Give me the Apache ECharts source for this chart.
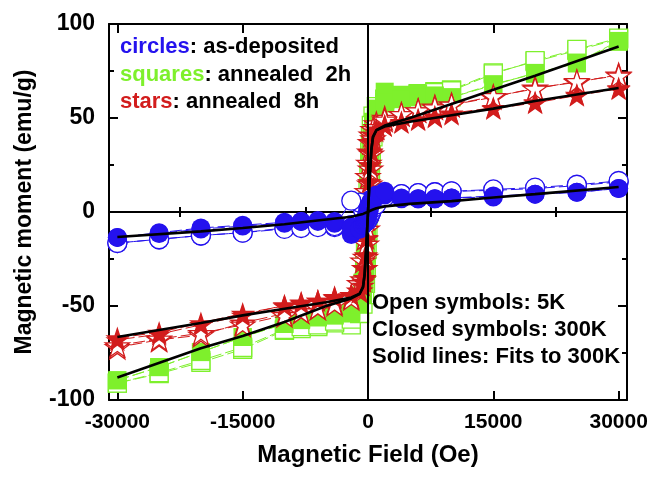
<!DOCTYPE html>
<html>
<head>
<meta charset="utf-8">
<script src="https://cdn.jsdelivr.net/npm/echarts@6/dist/echarts.min.js"></script>
<style>
  html, body { margin: 0; padding: 0; background: #fff; }
  #chart { width: 659px; height: 479px; }
</style>
</head>
<body>
<div id="chart"></div>
<script>
// Field sweep: descending branch (+30 kOe -> -30 kOe) and ascending branch
const fieldDown = [30000, 25000, 20000, 15000, 10000, 8000, 6000, 4000, 2000, 1000, 600, 400, 300, 200, 100, 0,
  -100, -200, -300, -400, -600, -1000, -2000, -4000, -6000, -8000, -10000, -15000, -20000, -25000, -30000];
const fieldUp = [-30000, -25000, -20000, -15000, -10000, -8000, -6000, -4000, -2000, -1000, -600, -400, -300, -200, -100, 0,
  100, 200, 300, 400, 600, 1000, 2000, 4000, 6000, 8000, 10000, 15000, 20000, 25000, 30000];

// As-deposited (circles)
const circles300Down = [12.5, 10.5, 9.5, 8, 7.5, 7, 7, 7, 9, 8, 7, 6, 5, 4, 3, 2, 0, -2, -3.5, -5, -7, -9, -12, -6, -5, -5, -5.5, -7, -8.5, -11, -13.5];
const circles300Up = [-13.5, -11.5, -9, -7.5, -6, -5, -4.5, -5, -8, -9, -7, -6, -5, -4, -3, -2, 0, 2, 4, 5.5, 7, 9, 11, 7.5, 7, 7, 7.5, 8.5, 9.5, 10.5, 12.5];
const circles5Down = [16, 14, 12.5, 11.5, 11, 10.5, 10, 9.5, 8.5, 7.5, 7, 6.5, 6, 6, 5.5, 5, 4.5, 4, 3.5, 3, 1, 5, 6, -8, -7.5, -8, -8.5, -11, -12.5, -14.5, -16.5];
const circles5Up = [-16.5, -14.5, -12.5, -11, -9, -8.5, -8, -7.5, -7, -6.5, -6, -5.5, -5, -5, -4.5, -4, -3, -2, -1, 0, 2, 4, 8, 9.5, 10, 10.5, 11, 12, 13, 14.5, 16.5];

// Annealed 2h (squares)
const squares300Down = [90.5, 79, 74, 67.5, 61, 62, 63, 62, 64, 55, 48, 42, 35, 26, 16, 6, -4, -14, -24, -32, -40, -46, -54, -55, -56, -57, -59.5, -66.5, -74.5, -82.5, -89.5];
const squares300Up = [-89.5, -82.5, -74.5, -66.5, -59.5, -57.5, -56, -55, -53, -49, -44, -38, -31, -22, -12, -2, 8, 18, 27, 35, 43, 50, 58, 60, 61, 61.5, 61, 68, 73.5, 79.5, 91];
const squares5Down = [92, 86, 80, 74, 65, 64, 63, 62, 60, 56, 51, 46, 40, 32, 22, 12, 2, -8, -18, -28, -38, -48, -60, -59, -61, -62, -63, -73, -80, -86, -91];
const squares5Up = [-91, -85.5, -79, -72, -62.5, -61, -60, -58, -57, -54, -49, -44, -38, -30, -20, -10, 0, 10, 20, 30, 40, 50, 58, 61, 62.5, 63.5, 64.5, 73.5, 80.5, 86.5, 92.5];

// Annealed 8h (stars)
const stars300Down = [65.5, 62, 58, 55, 52, 50.5, 49, 47.5, 46, 44, 41, 37, 32, 25, 16, 6, -4, -14, -23, -30, -37, -42, -44, -45, -47, -48, -49.5, -55, -60, -65, -68];
const stars300Up = [-67, -64, -59, -54, -50, -48.5, -47, -45.5, -44, -42, -39, -35, -30, -23, -14, -4, 6, 16, 25, 32, 38, 43, 46, 48, 49.5, 51, 52.5, 55.5, 58.5, 62.5, 66];
const stars5Down = [73, 69, 66, 61, 57, 56, 54, 52, 50, 47, 44, 41, 37, 32, 26, 19, 11, 3, -6, -14, -26, -38, -45, -48, -51, -53, -54, -59, -65.5, -68, -72];
const stars5Up = [-71, -67.5, -64.5, -60, -55, -53, -51, -49, -46, -42, -36, -30, -24, -17, -9, -1, 7, 15, 23, 31, 39, 45, 49, 52, 54, 55.5, 57, 61.5, 65.5, 69.5, 72.5];

// Fits to the 300 K data
const fitField = [-30000, -20000, -15000, -10000, -5000, -2000, -1000, -600, -400, -200, 0, 200, 400, 600, 1000, 2000, 5000, 10000, 15000, 20000, 30000];
const fitCircles = [-13.3, -10.3, -8.5, -6.5, -4, -2.5, -1.5, -1, -0.7, -0.3, 0, 0.5, 1, 1.3, 2, 3, 4.3, 5.8, 7.7, 9.5, 13.3];
const fitSquares = [-88, -72.5, -66, -58.5, -50, -46, -43.5, -40, -33, -18, 0, 18, 33, 40, 43.5, 46, 50, 57.5, 65, 72.5, 88];
const fitStars = [-66.5, -59, -55, -51.5, -48, -45.5, -43.5, -40, -33, -18, 0, 18, 33, 40, 43.5, 45.5, 48, 51.5, 55, 59, 66];

// Axis ticks
const xMajorTicks = [-30000, -15000, 0, 15000, 30000];
const xMinorTicks = [-22500, -7500, 7500, 22500];

const BLUE = '#2412ee';
const GREEN = '#7ef02c';
const RED = '#d21c1c';
const FONT = '"Liberation Sans", Arial, sans-serif';
const STAR = 'path://M50 0 L61.23 34.55 L97.55 34.55 L68.17 55.9 L79.39 90.45 L50 69.1 L20.61 90.45 L31.83 55.9 L2.45 34.55 L38.77 34.55 Z';

const zip = (xs, ys) => xs.map((x, i) => [x, ys[i]]);

function branch(xs, ys, color, symbol, size, open, z) {
  return {
    type: 'line',
    data: zip(xs, ys),
    symbol: symbol,
    symbolSize: size,
    symbolKeepAspect: true,
    showAllSymbol: true,
    z: z,
    lineStyle: { color: color, width: 1, type: [12, 4] },
    itemStyle: open
      ? { color: '#ffffff', borderColor: color, borderWidth: 1.3 }
      : { color: color, borderColor: color, borderWidth: 0 },
    emphasis: { disabled: true },
    animation: false
  };
}

function fit(ys, z) {
  return {
    type: 'line',
    data: zip(fitField, ys),
    symbol: 'none',
    z: z,
    lineStyle: { color: '#000', width: 2.6 },
    animation: false
  };
}

const axisCommon = {
  type: 'value', min: -31000, max: 31000,
  splitLine: { show: false }
};

const chart = echarts.init(document.getElementById('chart'), null, { renderer: 'canvas' });
chart.setOption({
  backgroundColor: '#fff',
  animation: false,
  grid: { left: 109, right: 32, top: 24, bottom: 79, outerBoundsMode: 'none', containLabel: false },
  xAxis: [
    Object.assign({}, axisCommon, {
      position: 'bottom',
      axisLine: { show: true, onZero: false, lineStyle: { color: '#000', width: 2 } },
      axisTick: { show: true, inside: true, length: 9, customValues: xMajorTicks, lineStyle: { color: '#000', width: 2 } },
      axisLabel: { customValues: xMajorTicks, formatter: v => String(v), color: '#000', fontFamily: FONT, fontWeight: 'bold', fontSize: 21, margin: 12 },
      name: 'Magnetic Field (Oe)', nameLocation: 'middle', nameGap: 43,
      nameTextStyle: { color: '#000', fontFamily: FONT, fontWeight: 'bold', fontSize: 24 }
    }),
    Object.assign({}, axisCommon, {
      position: 'bottom',
      axisLine: { show: false },
      axisTick: { show: true, inside: true, length: 5, customValues: xMinorTicks, lineStyle: { color: '#000', width: 2 } },
      axisLabel: { show: false }
    }),
    Object.assign({}, axisCommon, {
      position: 'top',
      axisLine: { show: true, onZero: false, lineStyle: { color: '#000', width: 2 } },
      axisTick: { show: true, inside: true, length: 9, customValues: xMajorTicks, lineStyle: { color: '#000', width: 2 } },
      axisLabel: { show: false }
    }),
    Object.assign({}, axisCommon, {
      position: 'top',
      axisLine: { show: false },
      axisTick: { show: true, inside: true, length: 5, customValues: xMinorTicks, lineStyle: { color: '#000', width: 2 } },
      axisLabel: { show: false }
    })
  ],
  yAxis: [
    {
      type: 'value', min: -100, max: 100, interval: 50, position: 'left',
      splitLine: { show: false },
      axisLine: { show: true, onZero: false, lineStyle: { color: '#000', width: 2 } },
      axisTick: { show: true, inside: true, length: 9, lineStyle: { color: '#000', width: 2 } },
      minorTick: { show: true, splitNumber: 2, length: 5, lineStyle: { color: '#000', width: 2 } },
      axisLabel: { color: '#000', fontFamily: FONT, fontWeight: 'bold', fontSize: 23, margin: 14 },
      name: 'Magnetic moment (emu/g)', nameLocation: 'middle', nameGap: 73, nameRotate: 90,
      nameTextStyle: { color: '#000', fontFamily: FONT, fontWeight: 'bold', fontSize: 23 }
    },
    {
      type: 'value', min: -100, max: 100, interval: 50, position: 'right',
      splitLine: { show: false },
      axisLine: { show: true, onZero: false, lineStyle: { color: '#000', width: 2 } },
      axisTick: { show: true, inside: true, length: 9, lineStyle: { color: '#000', width: 2 } },
      minorTick: { show: true, splitNumber: 2, length: 5, lineStyle: { color: '#000', width: 2 } },
      axisLabel: { show: false }
    }
  ],
  series: [
    // zero lines through the origin
    {
      type: 'line', data: [], z: 1, symbol: 'none',
      markLine: {
        silent: true, symbol: 'none', animation: false,
        label: { show: false },
        lineStyle: { color: '#000', width: 2, type: 'solid' },
        emphasis: { disabled: true },
        data: [{ xAxis: 0 }, { yAxis: 0 }]
      }
    },
    branch(fieldDown, squares5Down, GREEN, 'rect', 18, true, 3),
    branch(fieldUp, squares5Up, GREEN, 'rect', 18, true, 3),
    branch(fieldDown, squares300Down, GREEN, 'rect', 18, false, 3),
    branch(fieldUp, squares300Up, GREEN, 'rect', 18, false, 3),
    branch(fieldDown, stars5Down, RED, STAR, 24, true, 4),
    branch(fieldUp, stars5Up, RED, STAR, 24, true, 4),
    branch(fieldDown, stars300Down, RED, STAR, 24, false, 4),
    branch(fieldUp, stars300Up, RED, STAR, 24, false, 4),
    branch(fieldDown, circles5Down, BLUE, 'circle', 19, true, 5),
    branch(fieldUp, circles5Up, BLUE, 'circle', 19, true, 5),
    branch(fieldDown, circles300Down, BLUE, 'circle', 19, false, 5),
    branch(fieldUp, circles300Up, BLUE, 'circle', 19, false, 5),
    fit(fitSquares, 6),
    fit(fitStars, 6),
    fit(fitCircles, 6)
  ],
  graphic: [
    { type: 'text', x: 120, y: 47, z: 10, style: { text: '{c|circles}: as-deposited', font: 'bold 22px ' + FONT, fill: '#000', verticalAlign: 'middle',
        rich: { c: { fill: BLUE, font: 'bold 22px ' + FONT } } } },
    { type: 'text', x: 120, y: 75, z: 10, style: { text: '{c|squares}: annealed  2h', font: 'bold 22px ' + FONT, fill: '#000', verticalAlign: 'middle',
        rich: { c: { fill: GREEN, font: 'bold 22px ' + FONT } } } },
    { type: 'text', x: 120, y: 102, z: 10, style: { text: '{c|stars}: annealed  8h', font: 'bold 22px ' + FONT, fill: '#000', verticalAlign: 'middle',
        rich: { c: { fill: RED, font: 'bold 22px ' + FONT } } } },
    { type: 'text', x: 372, y: 303, z: 10, style: { text: 'Open symbols: 5K', font: 'bold 22px ' + FONT, fill: '#000', verticalAlign: 'middle' } },
    { type: 'text', x: 372, y: 330, z: 10, style: { text: 'Closed symbols: 300K', font: 'bold 22px ' + FONT, fill: '#000', verticalAlign: 'middle' } },
    { type: 'text', x: 372, y: 357, z: 10, style: { text: 'Solid lines: Fits to 300K', font: 'bold 22px ' + FONT, fill: '#000', verticalAlign: 'middle' } }
  ]
});
</script>
</body>
</html>
